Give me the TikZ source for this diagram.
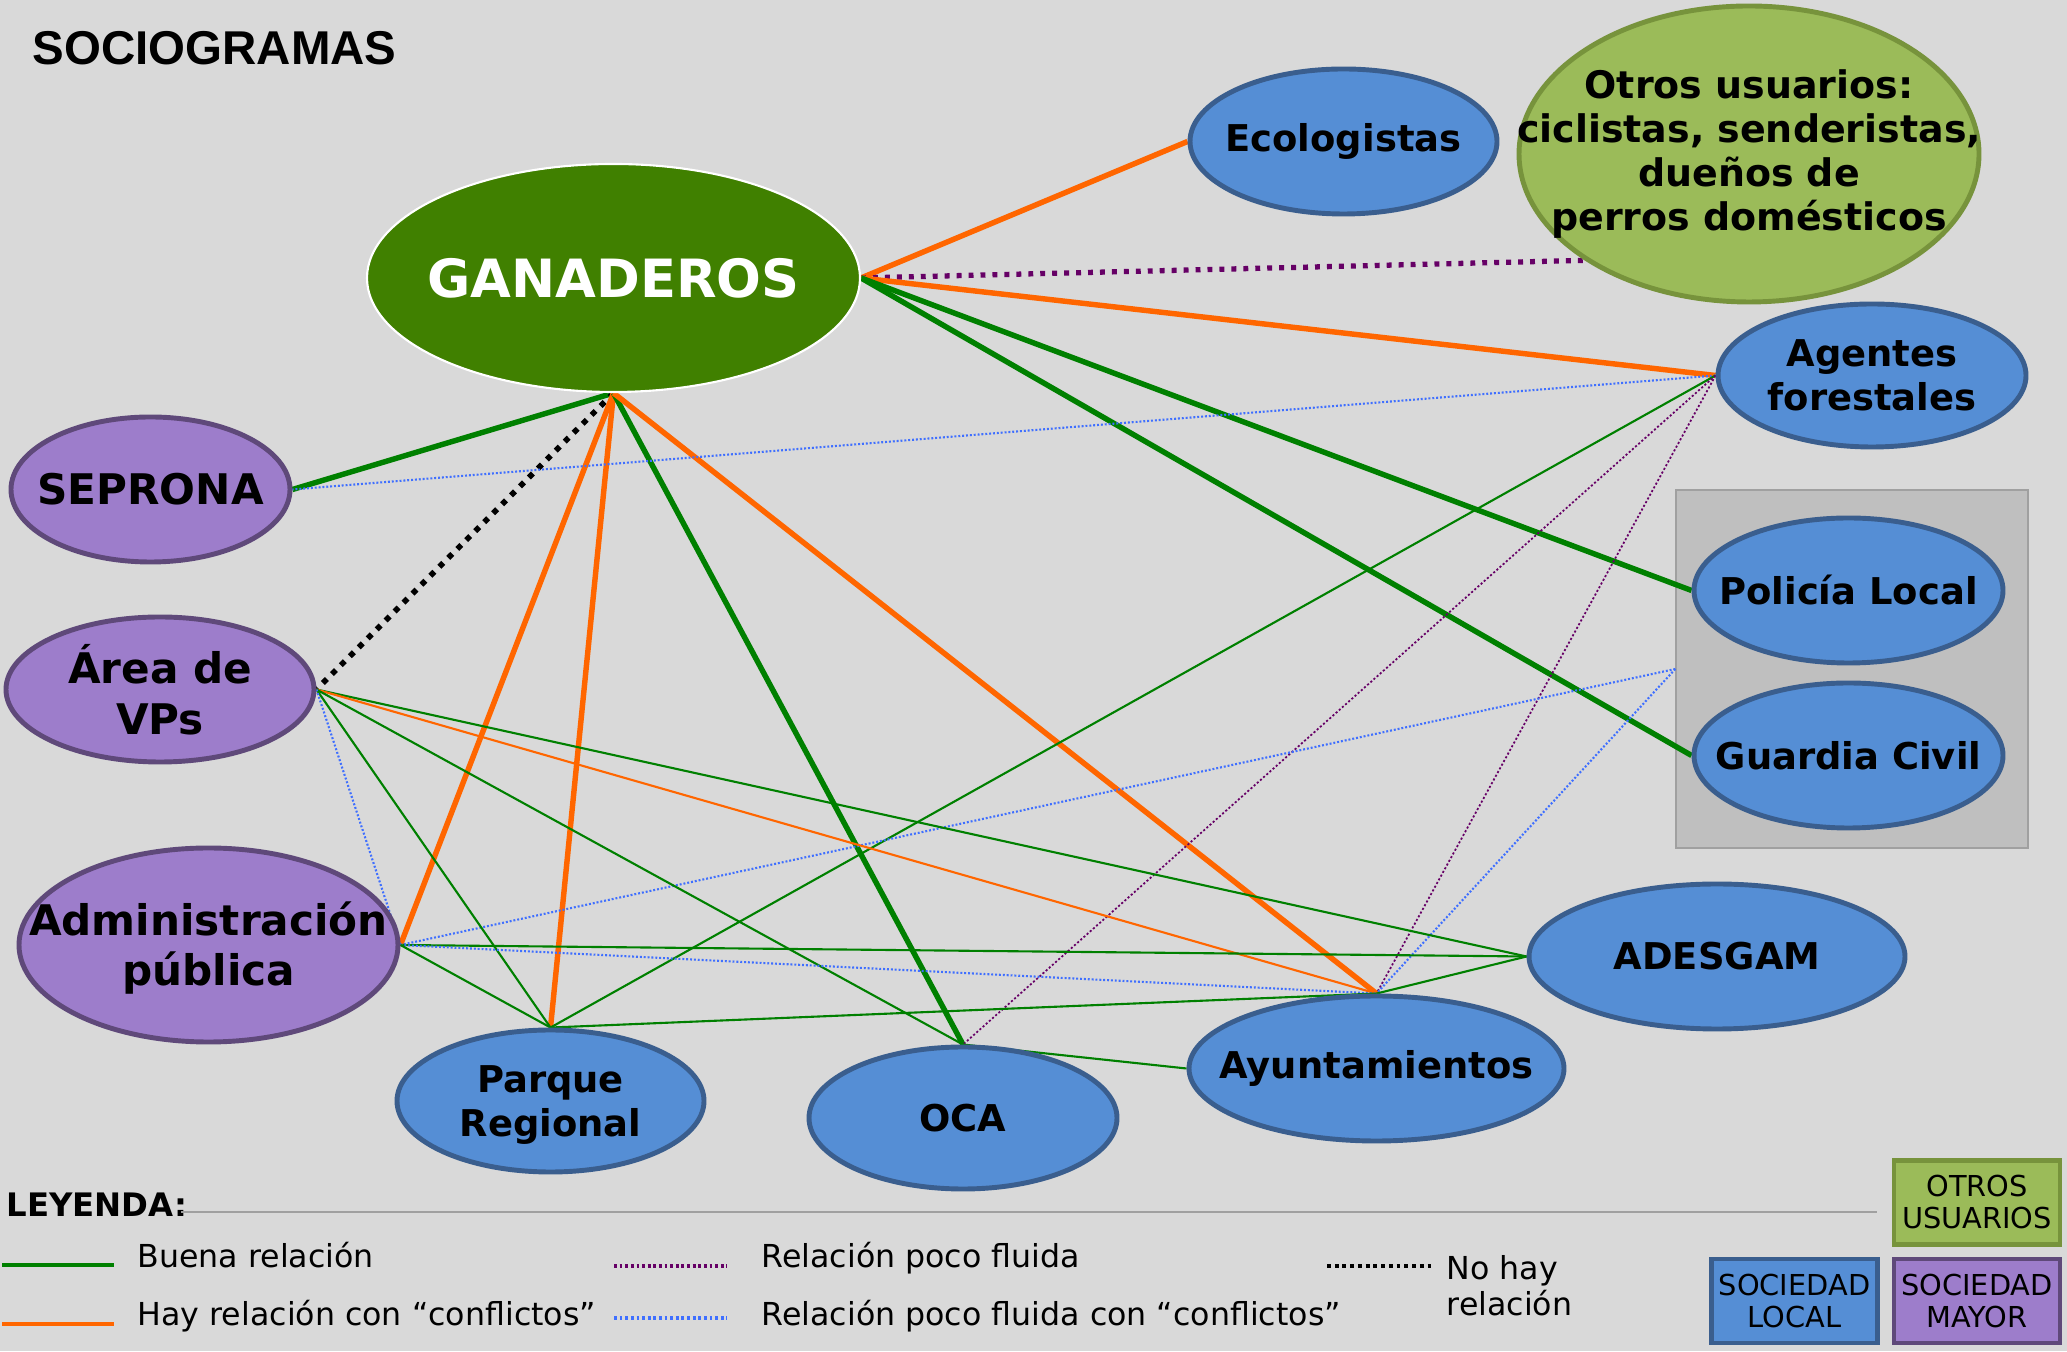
\documentclass[tikz,border=0pt]{standalone}
\usepackage{fontspec}
\setmainfont{DejaVu Sans}
\newfontfamily\titlefont{Liberation Sans}
\usetikzlibrary{shapes.geometric}

\definecolor{colfondo}{HTML}{D9D9D9}
\definecolor{ganfill}{HTML}{408000}
\definecolor{azulfill}{HTML}{558ED5}
\definecolor{azulborde}{HTML}{3A5E8E}
\definecolor{moradofill}{HTML}{9D7DCB}
\definecolor{moradoborde}{HTML}{5F497A}
\definecolor{verdefill}{HTML}{9BBB59}
\definecolor{verdeborde}{HTML}{77933C}
\definecolor{grupofill}{HTML}{BFBFBF}
\definecolor{grupoborde}{HTML}{A0A0A0}
\definecolor{colbuena}{HTML}{008000}
\definecolor{colconflicto}{HTML}{FF6600}
\definecolor{colpoco}{HTML}{660066}
\definecolor{colpococonf}{HTML}{3F6FFF}

\pgfdeclarelayer{capafondo}
\pgfdeclarelayer{capalineas}
\pgfsetlayers{capafondo,capalineas,main}

\tikzset{
  actor/.style={ellipse, line width=1.4pt, inner sep=0pt},
  ganadero/.style={actor, fill=ganfill, draw=white, line width=0.6pt},
  local/.style={actor, fill=azulfill, draw=azulborde},
  mayor/.style={actor, fill=moradofill, draw=moradoborde},
  otro/.style={actor, fill=verdefill, draw=verdeborde},
  grupo/.style={rectangle, fill=grupofill, draw=grupoborde, line width=0.4pt},
  nombre/.style={font=\fontsize{10.5}{12.6}\selectfont\bfseries, align=center, inner sep=0pt},
  nombremayor/.style={font=\fontsize{12}{14.4}\selectfont\bfseries, align=center, inner sep=0pt},
  nombregan/.style={font=\fontsize{15}{18}\selectfont\bfseries, text=white, inner sep=0pt},
  titulo/.style={font=\fontsize{13.5}{16}\selectfont\titlefont\bfseries, inner sep=0pt},
  buena/.style={draw=colbuena, line width=0.6pt},
  conflicto/.style={draw=colconflicto, line width=0.6pt},
  poco/.style={draw=colpoco, line width=0.5pt, dash pattern=on 0.6pt off 0.6pt},
  pococonf/.style={draw=colpococonf, line width=0.6pt, dash pattern=on 0.55pt off 0.55pt},
  pocogruesa/.style={draw=colpoco, line width=1.5pt, dash pattern=on 1.4pt off 2pt},
  nohay/.style={draw=black, line width=1.6pt, dash pattern=on 1.6pt off 2pt},
  gruesa/.style={line width=1.55pt},
  leyline/.style={line width=1.1pt},
  leyendatxt/.style={font=\fontsize{9}{10.2}\selectfont, inner sep=0pt},
  leyendatit/.style={font=\fontsize{9.2}{11}\selectfont\bfseries, inner sep=0pt},
  caja/.style={rectangle, minimum width=1.66cm, minimum height=0.84cm, line width=1.4pt,
    inner sep=0pt, align=center, font=\fontsize{8.2}{9.1}\selectfont},
}

\begin{document}
\begin{tikzpicture}
  \useasboundingbox (0,0) rectangle (20.67,13.51);
  \begin{pgfonlayer}{capafondo}
    \fill[colfondo] (0,0) rectangle (20.67,13.51);
    \node[grupo, minimum width=3.52cm, minimum height=3.58cm] (fuerzas) at (18.52,6.82) {};
  \end{pgfonlayer}

  \node[titulo, anchor=base west] (titulo) at (0.32,12.86) {SOCIOGRAMAS};

  % actores
  \node[ganadero, minimum width=4.93cm, minimum height=2.28cm] (gan) at (6.135,10.73) {};
  \node[nombregan] (gan-t) at (gan) {GANADEROS};
  \node[local, minimum width=3.07cm, minimum height=1.45cm] (eco) at (13.435,12.095) {};
  \node[nombre] (eco-t) at (eco) {Ecologistas};
  \node[otro, minimum width=4.60cm, minimum height=2.96cm] (otros) at (17.49,11.97) {};
  \node[nombre, font=\fontsize{10.8}{12.6}\selectfont\bfseries] (otros-t) at (otros)
    {Otros usuarios:\\ciclistas, senderistas,\\dueños de\\perros domésticos};
  \node[local, minimum width=3.08cm, minimum height=1.43cm] (agentes) at (18.72,9.755) {};
  \node[nombre] (agentes-t) at (agentes) {Agentes\\forestales};
  \node[local, minimum width=3.09cm, minimum height=1.45cm] (policia) at (18.485,7.605) {};
  \node[nombre] (policia-t) at (policia) {Policía Local};
  \node[local, minimum width=3.09cm, minimum height=1.45cm] (guardia) at (18.485,5.955) {};
  \node[nombre] (guardia-t) at (guardia) {Guardia Civil};
  \node[local, minimum width=3.76cm, minimum height=1.45cm] (adesgam) at (17.17,3.945) {};
  \node[nombre] (adesgam-t) at (adesgam) {ADESGAM};
  \node[local, minimum width=3.75cm, minimum height=1.45cm] (ayunt) at (13.765,2.825) {};
  \node[nombre] (ayunt-t) at (ayunt) {Ayuntamientos};
  \node[local, minimum width=3.08cm, minimum height=1.42cm] (oca) at (9.63,2.33) {};
  \node[nombre] (oca-t) at (oca) {OCA};
  \node[local, minimum width=3.07cm, minimum height=1.42cm] (parque) at (5.505,2.50) {};
  \node[nombre] (parque-t) at ([yshift=-0.04cm]parque.center) {Parque\\Regional};
  \node[mayor, minimum width=3.79cm, minimum height=1.94cm] (admin) at (2.085,4.06) {};
  \node[nombremayor] (admin-t) at ([yshift=-0.03cm]admin.center) {Administración\\pública};
  \node[mayor, minimum width=3.08cm, minimum height=1.45cm] (vps) at (1.60,6.615) {};
  \node[nombremayor] (vps-t) at (vps) {Área de\\VPs};
  \node[mayor, minimum width=2.79cm, minimum height=1.45cm] (seprona) at (1.505,8.615) {};
  \node[nombremayor] (seprona-t) at (seprona) {SEPRONA};

  % relaciones
  \begin{pgfonlayer}{capalineas}
    \path[conflicto, gruesa] (gan.east) edge (eco.west);
    \path[pocogruesa] (gan.east) edge (otros.south west);
    \path[conflicto, gruesa] (gan.east) edge (agentes.west);
    \path[buena, gruesa] (gan.east) edge (policia.west);
    \path[buena, gruesa] (gan.east) edge (guardia.west);
    \path[buena, gruesa] (gan.south) edge (seprona.east);
    \path[nohay] (gan.south) edge (vps.east);
    \path[conflicto, gruesa] (gan.south) edge (admin.east);
    \path[conflicto, gruesa] (gan.south) edge (parque.north);
    \path[buena, gruesa] (gan.south) edge (oca.north);
    \path[conflicto, gruesa] (gan.south) edge (ayunt.north);

    \path[pococonf] (agentes.west) edge (seprona.east);
    \path[buena] (agentes.west) edge (parque.north);
    \path[poco] (agentes.west) edge (oca.north);
    \path[poco] (agentes.west) edge (ayunt.north);
    \path[pococonf] (fuerzas.west) edge (admin.east);
    \path[pococonf] (fuerzas.west) edge (ayunt.north);

    \path[buena] (vps.east) edge (adesgam.west);
    \path[conflicto] (vps.east) edge (ayunt.north);
    \path[buena] (vps.east) edge (oca.north);
    \path[buena] (vps.east) edge (parque.north);
    \path[pococonf] (vps.east) edge (admin.east);

    \path[buena] (admin.east) edge (adesgam.west);
    \path[pococonf] (admin.east) edge (ayunt.north);
    \path[buena] (admin.east) edge (parque.north);
    \path[buena] (parque.north) edge (ayunt.north);
    \path[buena] (ayunt.north) edge (adesgam.west);
    \path[buena] (oca.north) edge (ayunt.west);
  \end{pgfonlayer}

  % leyenda
  \node[leyendatit, anchor=base west] (leyenda) at (0.06,1.34) {LEYENDA:};
  \draw[grupoborde, line width=0.6pt] (1.81,1.39) -- (18.77,1.39);
  \draw[buena, leyline] (0.02,0.86) -- (1.14,0.86);
  \node[leyendatxt, anchor=base west] (tbuena) at (1.37,0.83) {Buena relación};
  \draw[conflicto, leyline] (0.02,0.27) -- (1.14,0.27);
  \node[leyendatxt, anchor=base west] (tconflicto) at (1.37,0.25) {Hay relación con “conflictos”};
  \draw[poco, leyline, dash pattern=on 0.8pt off 0.8pt] (6.14,0.85) -- (7.27,0.85);
  \node[leyendatxt, anchor=base west] (tpoco) at (7.61,0.83) {Relación poco fluida};
  \draw[pococonf, leyline, dash pattern=on 0.8pt off 0.8pt] (6.14,0.33) -- (7.27,0.33);
  \node[leyendatxt, anchor=base west] (tpococonf) at (7.61,0.25) {Relación poco fluida con “conflictos”};
  \draw[nohay, leyline, dash pattern=on 1.1pt off 1.1pt] (13.27,0.85) -- (14.33,0.85);
  \node[leyendatxt, align=left, anchor=north west] (tnohay) at (14.46,0.96) {No hay\\relación};

  \node[caja, fill=verdefill, draw=verdeborde] (cotros) at (19.77,1.485) {OTROS\\USUARIOS};
  \node[caja, fill=azulfill, draw=azulborde] (clocal) at (17.945,0.50) {SOCIEDAD\\LOCAL};
  \node[caja, fill=moradofill, draw=moradoborde] (cmayor) at (19.77,0.50) {SOCIEDAD\\MAYOR};
\end{tikzpicture}
\end{document}
